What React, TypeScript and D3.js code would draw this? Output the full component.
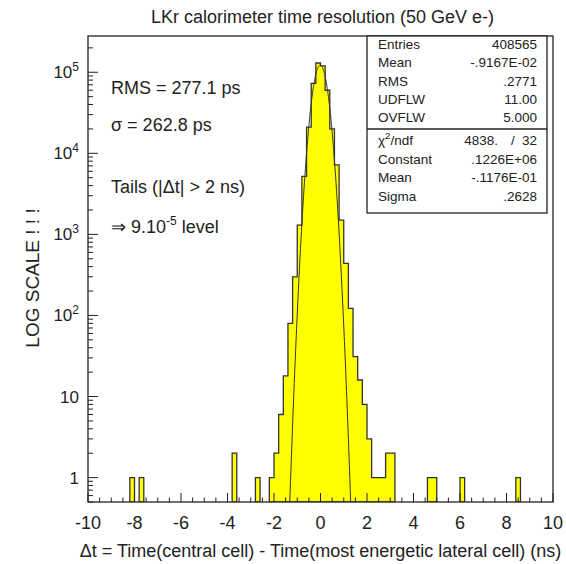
import React from "react";
import * as d3 from "d3";

// ---------- data ----------
const title = "LKr calorimeter time resolution (50 GeV e-)";
const xLabel = "\u0394t = Time(central cell) - Time(most energetic lateral cell) (ns)";
const yLabel = "LOG SCALE ! ! !";
const xTickValues = [-10, -8, -6, -4, -2, 0, 2, 4, 6, 8, 10];
const yDecadeExponents = [0, 1, 2, 3, 4, 5];

const binWidth = 0.2;
// lower edges of non-empty bins (ns)
const binStarts = [
  -8.2, -7.8, -3.8, -2.8,
  -2.2, -2.0, -1.8, -1.6, -1.4, -1.2, -1.0, -0.8, -0.6, -0.4, -0.2,
  0.0, 0.2, 0.4, 0.6, 0.8, 1.0, 1.2, 1.4, 1.6, 1.8, 2.0, 2.2, 2.4, 2.6, 2.8, 3.0,
  4.6, 4.8, 6.0, 8.4,
];
const binCounts = [
  1, 1, 2, 1,
  1, 2, 6, 18, 80, 300, 1300, 5200, 21000, 73000, 130000,
  120000, 60000, 20000, 7200, 1500, 440, 122, 31, 16, 8, 3, 1, 1, 1, 2, 2,
  1, 1, 1, 1,
];

// Gaussian fit parameters shown in the statistics box
const fitConstant = 0.1226e6;
const fitMean = -0.1176e-1;
const fitSigma = 0.2628;

const statsLabels = ["Entries", "Mean", "RMS", "UDFLW", "OVFLW"];
const statsValues = ["408565", "-.9167E-02", ".2771", "11.00", "5.000"];
const fitLabels = ["Constant", "Mean", "Sigma"];
const fitValues = [".1226E+06", "-.1176E-01", ".2628"];
const chi2Value = "4838.";
const ndfValue = "32";

// ---------- layout ----------
const W = 566;
const H = 564;
const L = 88;
const R = 553;
const T = 36;
const B = 502;
const FONT = "'Liberation Sans', Arial, Helvetica, sans-serif";

export default function App() {
  const x = d3.scaleLinear().domain([-10, 10]).range([L, R]);
  const y = d3.scaleLog().domain([0.5, 2.8e5]).range([B, T]);

  // histogram outline paths, one per contiguous run of bins
  const runs: { s: number; c: number }[][] = [];
  binStarts.forEach((s, i) => {
    const last = runs[runs.length - 1];
    if (last && Math.abs(last[last.length - 1].s + binWidth - s) < 1e-6) {
      last.push({ s, c: binCounts[i] });
    } else {
      runs.push([{ s, c: binCounts[i] }]);
    }
  });
  const histPaths = runs.map((run) => {
    const p = d3.path();
    p.moveTo(x(run[0].s), B);
    run.forEach((b) => {
      p.lineTo(x(b.s), y(b.c));
      p.lineTo(x(b.s + binWidth), y(b.c));
    });
    p.lineTo(x(run[run.length - 1].s + binWidth), B);
    p.closePath();
    return p.toString();
  });

  // fit curve
  const fitPts: [number, number][] = [];
  for (let i = 0; i <= 2000; i++) {
    const t = -10 + (i * 20) / 2000;
    const v = fitConstant * Math.exp(-((t - fitMean) ** 2) / (2 * fitSigma * fitSigma));
    if (v >= 0.3) fitPts.push([t, v]);
  }
  const fitLine = d3
    .line<[number, number]>()
    .x((d) => x(d[0]))
    .y((d) => y(d[1]))(fitPts);

  // ticks
  const xMinor = d3.range(-10, 10.001, 0.5);
  const yMinor: number[] = [];
  for (let e = -1; e <= 5; e++) {
    for (let k = 1; k <= 9; k++) {
      const v = k * Math.pow(10, e);
      if (v >= 0.5 && v <= 2.8e5) yMinor.push(v);
    }
  }

  const boxL = 367;
  const boxR = 547;
  const boxB = 213;
  const divY = 129;
  const labX = 378;
  const valX = 537;

  return (
    <svg
      width={W}
      height={H}
      style={{ position: "absolute", left: 0, top: 0, background: "#fff" }}
      fontFamily={FONT}
    >
      <defs>
        <clipPath id="plotClip">
          <rect x={L} y={T} width={R - L} height={B - T} />
        </clipPath>
      </defs>
      <rect x={0} y={0} width={W} height={H} fill="#fff" />

      {/* title */}
      <text x={(L + R) / 2 + 2} y={23} textAnchor="middle" fontSize={18} fill="#222">
        {title}
      </text>

      {/* histogram */}
      <g clipPath="url(#plotClip)">
        {histPaths.map((d, i) => (
          <path key={i} d={d} fill="#ffff00" stroke="#333" strokeWidth={1.3} strokeLinejoin="miter" />
        ))}
        <path d={fitLine || ""} fill="none" stroke="#333" strokeWidth={1} />
      </g>

      {/* x ticks (inside) */}
      {xMinor.map((v, i) => {
        const major = xTickValues.some((t) => Math.abs(t - v) < 1e-6);
        return (
          <line key={"xt" + i} x1={x(v)} x2={x(v)} y1={B} y2={B - (major ? 9 : 4.5)} stroke="#222" strokeWidth={1} />
        );
      })}
      {/* y ticks (inside) */}
      {yMinor.map((v, i) => {
        const major = Math.abs(Math.log10(v) - Math.round(Math.log10(v))) < 1e-9;
        return (
          <line key={"yt" + i} x1={L} x2={L + (major ? 10 : 5)} y1={y(v)} y2={y(v)} stroke="#222" strokeWidth={1} />
        );
      })}

      {/* frame */}
      <rect x={L} y={T} width={R - L} height={B - T} fill="none" stroke="#222" strokeWidth={1.3} />

      {/* x tick labels */}
      {xTickValues.map((v) => (
        <text key={"xl" + v} x={x(v)} y={529} textAnchor="middle" fontSize={18} fill="#222">
          {v}
        </text>
      ))}
      {/* y tick labels */}
      {yDecadeExponents.map((e) => {
        const yy = y(Math.pow(10, e)) + 6;
        if (e === 0)
          return (
            <text key={"yl" + e} x={79} y={yy} textAnchor="end" fontSize={17} fill="#222">
              1
            </text>
          );
        if (e === 1)
          return (
            <text key={"yl" + e} x={79} y={yy} textAnchor="end" fontSize={17} fill="#222">
              10
            </text>
          );
        return (
          <text key={"yl" + e} x={79} y={yy} textAnchor="end" fontSize={17} fill="#222">
            10
            <tspan fontSize={12} dy={-7}>
              {e}
            </tspan>
          </text>
        );
      })}

      {/* axis titles */}
      <text x={(L + R) / 2} y={557} textAnchor="middle" fontSize={18} fill="#222">
        {xLabel}
      </text>
      <text
        transform={`translate(39, ${(T + B) / 2 + 9}) rotate(-90)`}
        textAnchor="middle"
        fontSize={19}
        fill="#222"
      >
        {yLabel}
      </text>

      {/* annotations */}
      <g fontSize={18} fill="#222">
        <text x={111} y={94}>RMS = 277.1 ps</text>
        <text x={111} y={131}>{"\u03c3 = 262.8 ps"}</text>
        <text x={111} y={193}>{"Tails (|\u0394t| > 2 ns)"}</text>
        <text x={111} y={233}>
          {"\u21d2 9.10"}
          <tspan fontSize={12} dy={-8}>
            -5
          </tspan>
          <tspan dy={8}>{" level"}</tspan>
        </text>
      </g>

      {/* statistics box */}
      <rect x={boxL} y={T} width={boxR - boxL} height={boxB - T} fill="#fff" stroke="#222" strokeWidth={1.3} />
      <line x1={boxL} x2={boxR} y1={divY} y2={divY} stroke="#222" strokeWidth={1.3} />
      <g fontSize={13.5} fill="#222">
        {statsLabels.map((s, i) => (
          <g key={"st" + i}>
            <text x={labX} y={49 + i * 18.3}>{s}</text>
            <text x={valX} y={49 + i * 18.3} textAnchor="end">
              {statsValues[i]}
            </text>
          </g>
        ))}
        <text x={labX} y={145}>
          {"\u03c7"}
          <tspan fontSize={9.5} dy={-6}>
            2
          </tspan>
          <tspan dy={6}>/ndf</tspan>
        </text>
        <text x={498} y={145} textAnchor="end">
          {chi2Value}
        </text>
        <text x={513} y={145} textAnchor="middle">
          /
        </text>
        <text x={valX} y={145} textAnchor="end">
          {ndfValue}
        </text>
        {fitLabels.map((s, i) => (
          <g key={"ft" + i}>
            <text x={labX} y={163.5 + i * 18.5}>{s}</text>
            <text x={valX} y={163.5 + i * 18.5} textAnchor="end">
              {fitValues[i]}
            </text>
          </g>
        ))}
      </g>
    </svg>
  );
}
